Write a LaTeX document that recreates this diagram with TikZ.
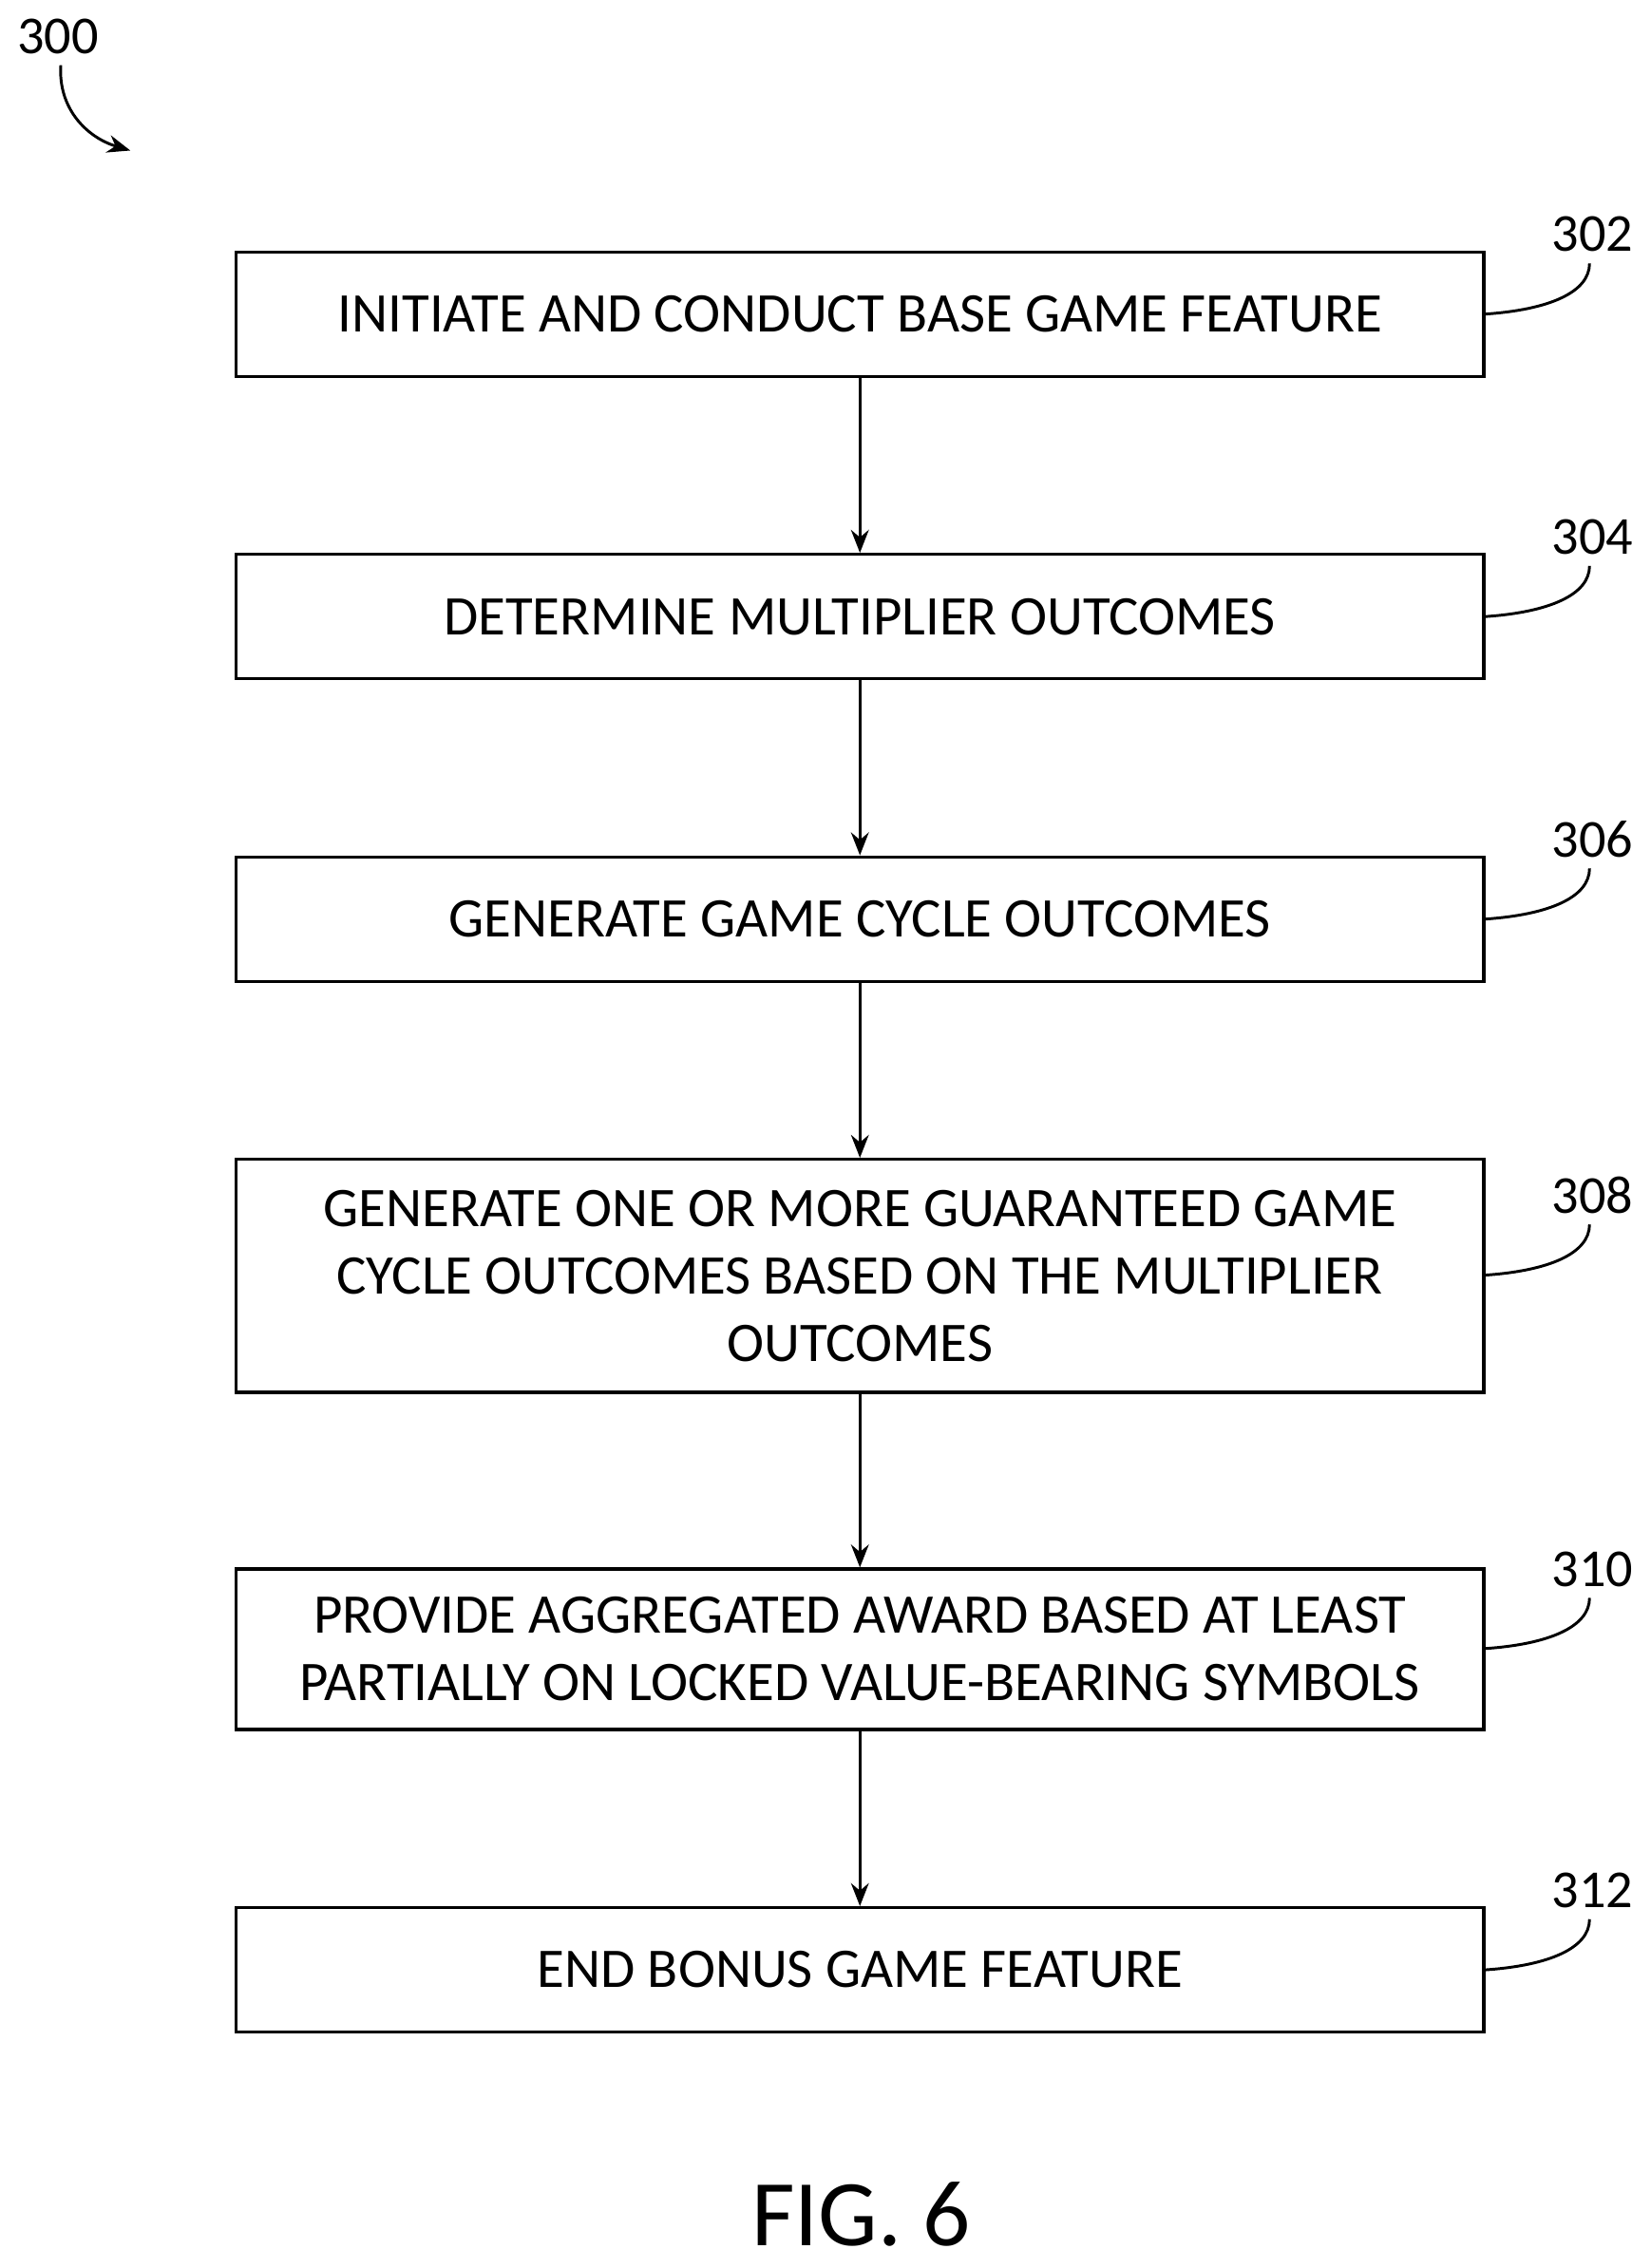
\documentclass[tikz,border=0pt]{standalone}
\usepackage{fontspec}
\setmainfont{Carlito}
\usetikzlibrary{arrows.meta}
\begin{document}
\begin{tikzpicture}[x=0.02cm,y=-0.02cm,
  box/.style={draw,line width=1.2pt,minimum width=17.24cm,align=center,font=\fontsize{22}{26.5}\selectfont,inner sep=0pt},
  lab/.style={font=\fontsize{21}{24}\selectfont},
  arr/.style={line width=1.1pt,-{Stealth[length=9pt,width=7pt]}},
  lead/.style={line width=1.1pt}]
\useasboundingbox (0,0) rectangle (1140,1567);
\node[box,minimum height=1.72cm] (b1) at (594,217) {INITIATE AND CONDUCT BASE GAME FEATURE};
\node[box,minimum height=1.72cm] (b2) at (594,426) {DETERMINE MULTIPLIER OUTCOMES};
\node[box,minimum height=1.72cm] (b3) at (594,635) {GENERATE GAME CYCLE OUTCOMES};
\node[box,minimum height=3.22cm] (b4) at (594,881.5) {GENERATE ONE OR MORE GUARANTEED GAME\\CYCLE OUTCOMES BASED ON THE MULTIPLIER\\OUTCOMES};
\node[box,minimum height=2.22cm] (b5) at (594,1139.5) {PROVIDE AGGREGATED AWARD BASED AT LEAST\\PARTIALLY ON LOCKED VALUE-BEARING SYMBOLS};
\node[box,minimum height=1.72cm] (b6) at (594,1361) {END BONUS GAME FEATURE};
\draw[arr] (b1) -- (b2);
\draw[arr] (b2) -- (b3);
\draw[arr] (b3) -- (b4);
\draw[arr] (b4) -- (b5);
\draw[arr] (b5) -- (b6);
\foreach \n/\t/\y/\ly in {b1/302/217/162, b2/304/426/371, b3/306/635/580, b4/308/881/826, b5/310/1139/1084, b6/312/1361/1306}{
  \node[lab] (l\t) at (1100,\ly) {\t};
  \draw[lead] (\n.east |- 0,\y) .. controls (1070,\y-3) and (1098,\y-15) .. (1098,\ly+20);
}
\node[lab] (l300) at (40,25) {300};
\coordinate (a300) at (90,104);
\draw[arr] (42,45) .. controls (40,75) and (60,95) .. (a300);
\node[font=\fontsize{37}{40}\selectfont] (fig) at (595,1530) {FIG. 6};
\end{tikzpicture}
\end{document}
